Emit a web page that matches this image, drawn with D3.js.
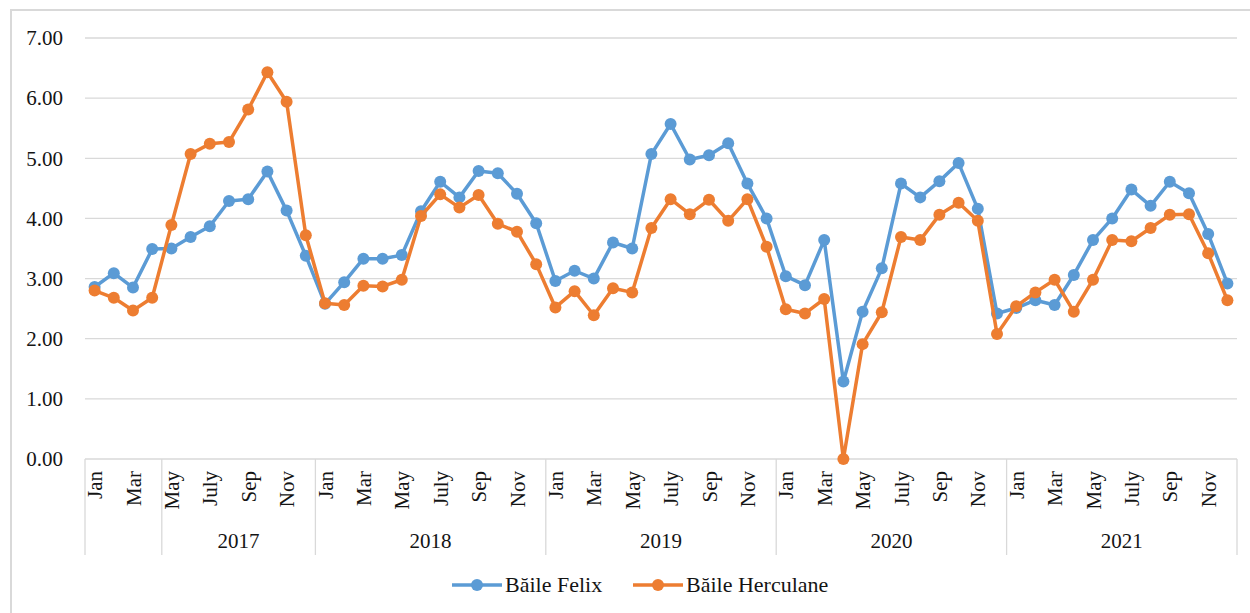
<!DOCTYPE html>
<html>
<head>
<meta charset="utf-8">
<script src="https://cdn.jsdelivr.net/npm/d3@7"></script>
<style>
  html, body { margin: 0; padding: 0; background: #fff; }
  svg { display: block; }
  svg text { font-family: "Liberation Serif", "Times New Roman", serif !important; }
</style>
</head>
<body>
<svg id="chart" width="1250" height="613"></svg>
<script>
// ---------- DATA ----------
const years = [2017, 2018, 2019, 2020, 2021];
const months = ["Jan","Feb","Mar","Apr","May","Jun","Jul","Aug","Sep","Oct","Nov","Dec"];
const monthLabels = ["Jan","","Mar","","May","","July","","Sep","","Nov",""];
// year group labels on the category axis (start/end are category indices)
const yearGroupLabels = ["", "2017", "2018", "2019", "2020", "2021"];
const yearGroupStart  = [0, 4, 12, 24, 36, 48];
const yearGroupEnd    = [4, 12, 24, 36, 48, 60];
const yTicks = [0, 1, 2, 3, 4, 5, 6, 7];
const seriesNames = ["Băile Felix", "Băile Herculane"];

const felix = [
  2.86, 3.09, 2.85, 3.49, 3.50, 3.69, 3.87, 4.29, 4.32, 4.78, 4.13, 3.38,
  2.58, 2.94, 3.33, 3.33, 3.39, 4.12, 4.61, 4.35, 4.79, 4.75, 4.41, 3.92,
  2.96, 3.13, 3.00, 3.60, 3.50, 5.07, 5.57, 4.98, 5.05, 5.25, 4.58, 4.00,
  3.04, 2.89, 3.64, 1.29, 2.45, 3.17, 4.58, 4.35, 4.62, 4.92, 4.16, 2.42,
  2.51, 2.64, 2.56, 3.06, 3.64, 4.00, 4.48, 4.21, 4.61, 4.42, 3.74, 2.92
];
const herculane = [
  2.80, 2.68, 2.47, 2.68, 3.89, 5.07, 5.24, 5.27, 5.81, 6.43, 5.94, 3.72,
  2.59, 2.56, 2.88, 2.87, 2.98, 4.04, 4.40, 4.18, 4.39, 3.91, 3.78, 3.24,
  2.52, 2.79, 2.39, 2.84, 2.77, 3.84, 4.32, 4.07, 4.31, 3.96, 4.32, 3.53,
  2.49, 2.42, 2.66, 0.00, 1.91, 2.44, 3.69, 3.64, 4.06, 4.26, 3.96, 2.08,
  2.54, 2.77, 2.98, 2.45, 2.98, 3.64, 3.62, 3.84, 4.06, 4.07, 3.42, 2.64
];

// ---------- LAYOUT ----------
const colors = ["#5B9BD5", "#ED7D31"];
const textColor = "#141414";
const gridColor = "#d9d9d9";
const plot = { left: 85, right: 1237, top: 38, bottom: 459 };

const categories = [];
years.forEach(y => months.forEach((m, i) => categories.push({ year: y, month: m, mi: i })));

const svg = d3.select("#chart");

// outer frame
svg.append("rect")
  .attr("x", 11).attr("y", 10).attr("width", 1260).attr("height", 620)
  .attr("fill", "none").attr("stroke", gridColor).attr("stroke-width", 2);

const x = d3.scaleBand().domain(d3.range(categories.length)).range([plot.left, plot.right]).padding(0);
const y = d3.scaleLinear().domain([0, 7]).range([plot.bottom, plot.top]);
const cx = i => x(i) + x.bandwidth() / 2;

// gridlines
svg.append("g").selectAll("line").data(yTicks).join("line")
  .attr("x1", plot.left).attr("x2", plot.right)
  .attr("y1", d => y(d)).attr("y2", d => y(d))
  .attr("stroke", gridColor).attr("stroke-width", 1.3);

// y axis labels
const yAxis = d3.axisLeft(y).tickValues(yTicks).tickFormat(d3.format(".2f")).tickSize(0).tickPadding(22);
const yg = svg.append("g").attr("transform", `translate(${plot.left},0)`).call(yAxis);
yg.attr("font-family", null).attr("font-size", null);
yg.select(".domain").remove();
yg.selectAll("text").style("font-size", "21px").attr("fill", textColor);

// category axis: month labels
const xAxis = d3.axisBottom(x).tickSize(0).tickFormat(i => monthLabels[categories[i].mi]);
const xg = svg.append("g").attr("transform", `translate(0,${plot.bottom})`).call(xAxis);
xg.attr("font-family", null).attr("font-size", null);
xg.select(".domain").remove();
xg.selectAll("text")
  .style("font-size", "21px").attr("fill", textColor)
  .attr("text-anchor", "end")
  .attr("transform", "rotate(-90)")
  .attr("x", -12).attr("y", 0).attr("dy", "0.36em");

// year group separators
const sepIdx = yearGroupStart.concat([categories.length]);
svg.append("g").selectAll("line").data(sepIdx).join("line")
  .attr("x1", d => d < categories.length ? x(d) : plot.right)
  .attr("x2", d => d < categories.length ? x(d) : plot.right)
  .attr("y1", plot.bottom).attr("y2", 555)
  .attr("stroke", gridColor).attr("stroke-width", 1.3);

// year labels
svg.append("g").selectAll("text").data(yearGroupLabels).join("text")
  .attr("x", (d, i) => {
    const a = x(yearGroupStart[i]);
    const b = yearGroupEnd[i] < categories.length ? x(yearGroupEnd[i]) : plot.right;
    return (a + b) / 2;
  })
  .attr("y", 548)
  .attr("text-anchor", "middle")
  .style("font-size", "21px").attr("fill", textColor)
  .text(d => d);

// series
const seriesData = [felix, herculane];
const line = d3.line().x((d, i) => cx(i)).y(d => y(d));
seriesData.forEach((s, k) => {
  const g = svg.append("g");
  g.append("path").datum(s)
    .attr("d", line).attr("fill", "none")
    .attr("stroke", colors[k]).attr("stroke-width", 3.5)
    .attr("stroke-linejoin", "round");
  g.selectAll("circle").data(s).join("circle")
    .attr("cx", (d, i) => cx(i)).attr("cy", d => y(d))
    .attr("r", 6).attr("fill", colors[k]);
});

// legend
const legendX = [452, 633];
const legendY = 585;
const lg = svg.append("g");
seriesNames.forEach((name, k) => {
  const lx = legendX[k];
  lg.append("line").attr("x1", lx).attr("x2", lx + 50).attr("y1", legendY).attr("y2", legendY)
    .attr("stroke", colors[k]).attr("stroke-width", 3.5);
  lg.append("circle").attr("cx", lx + 25).attr("cy", legendY).attr("r", 6).attr("fill", colors[k]);
  lg.append("text").attr("x", lx + 53).attr("y", legendY + 7)
    .style("font-size", "22px").attr("fill", textColor)
    .text(name);
});
</script>
</body>
</html>
